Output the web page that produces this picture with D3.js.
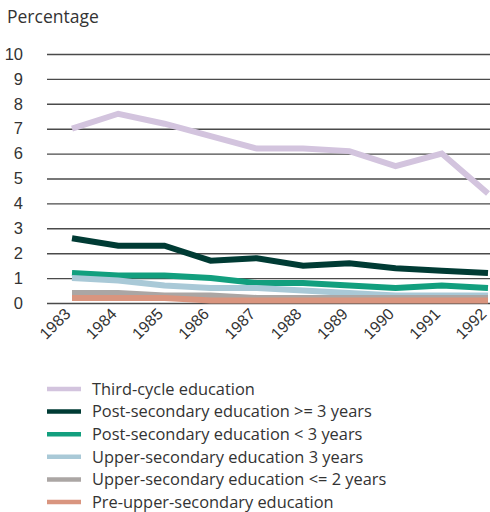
<!DOCTYPE html>
<html>
<head>
<meta charset="utf-8">
<script src="https://cdn.jsdelivr.net/npm/d3@7"></script>
<style>
  body { margin: 0; background: #fff; }
  svg { display: block; font-family: "Open Sans", "DejaVu Sans", sans-serif; }
</style>
</head>
<body>
<div id="chart"></div>
<script>
const years = [1983, 1984, 1985, 1986, 1987, 1988, 1989, 1990, 1991, 1992];
const yTicks = [0, 1, 2, 3, 4, 5, 6, 7, 8, 9, 10];

const seriesNames = [
  'Third-cycle education',
  'Post-secondary education >= 3 years',
  'Post-secondary education < 3 years',
  'Upper-secondary education 3 years',
  'Upper-secondary education <= 2 years',
  'Pre-upper-secondary education'
];
const thirdCycle = [7.0, 7.6, 7.2, 6.7, 6.2, 6.2, 6.1, 5.5, 6.0, 4.4];
const postSecLong = [2.6, 2.3, 2.3, 1.7, 1.8, 1.5, 1.6, 1.4, 1.3, 1.2];
const postSecShort = [1.2, 1.1, 1.1, 1.0, 0.8, 0.8, 0.7, 0.6, 0.7, 0.6];
const upperSec3 = [1.0, 0.9, 0.7, 0.6, 0.6, 0.5, 0.4, 0.3, 0.3, 0.3];
const upperSec2 = [0.4, 0.4, 0.3, 0.3, 0.2, 0.2, 0.2, 0.2, 0.2, 0.2];
const preUpper = [0.2, 0.2, 0.2, 0.1, 0.1, 0.1, 0.1, 0.1, 0.1, 0.1];
const seriesColors = ['#d3c4de', '#003b34', '#129f7e', '#a9c9d7', '#aba6a4', '#d9957f'];

const allSeries = [thirdCycle, postSecLong, postSecShort, upperSec3, upperSec2, preUpper];

const W = 490, H = 512;
const svg = d3.select('#chart').append('svg').attr('width', W).attr('height', H);

const x = d3.scalePoint().domain(years).range([72, 488]);
const y = d3.scaleLinear().domain([0, 10]).range([303, 54]);

// title
svg.append('text').attr('x', 7).attr('y', 23)
  .attr('font-size', 17.5).attr('fill', '#333').text('Percentage');

// gridlines + y labels
const yAxis = svg.append('g').attr('transform', 'translate(47,0)')
  .call(d3.axisLeft(y).tickValues(yTicks).tickSize(-443).tickFormat(d3.format('d')));
yAxis.select('.domain').remove();
yAxis.selectAll('.tick line').attr('stroke', '#4a4a4a').attr('stroke-width', 1.4);
yAxis.selectAll('.tick text').attr('x', -24).attr('font-size', 16.5).attr('fill', '#333');

// x labels, rotated
const xAxis = svg.append('g').attr('transform', 'translate(0,303)')
  .call(d3.axisBottom(x).tickSize(0));
xAxis.select('.domain').remove();
xAxis.selectAll('.tick text')
  .attr('font-size', 16).attr('fill', '#333')
  .attr('text-anchor', 'end')
  .attr('dy', 0).attr('y', 0)
  .attr('transform', 'translate(-1,12) rotate(-45)');

// lines
const line = d3.line().x((d, i) => x(years[i])).y(d => y(d));
svg.append('g').selectAll('path').data(allSeries).join('path')
  .attr('d', line)
  .attr('fill', 'none')
  .attr('stroke', (d, i) => seriesColors[i])
  .attr('stroke-width', 6)
  .attr('stroke-linejoin', 'miter');

// legend
const legend = svg.append('g').selectAll('g').data(seriesNames).join('g')
  .attr('transform', (d, i) => `translate(47,${389 + i * 22.6})`);
legend.append('line').attr('x1', 0).attr('x2', 34).attr('y1', 0).attr('y2', 0)
  .attr('stroke', (d, i) => seriesColors[i]).attr('stroke-width', 4.5);
legend.append('text').attr('x', 45).attr('y', 0).attr('dy', '0.35em')
  .attr('font-size', 16.4).attr('fill', '#333').text(d => d);
</script>
</body>
</html>
